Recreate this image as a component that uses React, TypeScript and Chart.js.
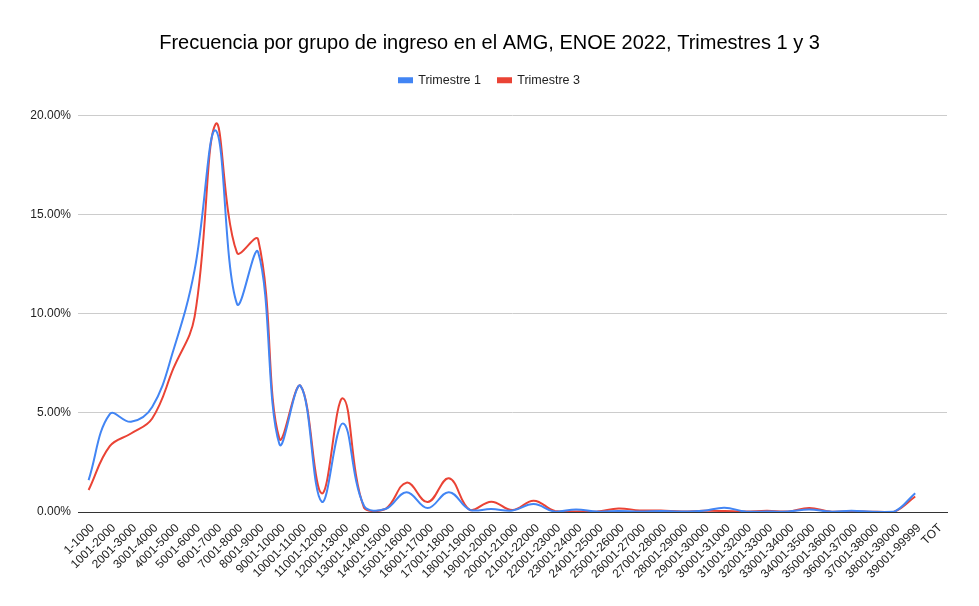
import React, { useEffect, useRef } from "react";
import { Chart, registerables } from "chart.js";

Chart.register(...registerables);

const categories: string[] = [
  "1-1000", "1001-2000", "2001-3000", "3001-4000", "4001-5000", "5001-6000",
  "6001-7000", "7001-8000", "8001-9000", "9001-10000", "10001-11000",
  "11001-12000", "12001-13000", "13001-14000", "14001-15000", "15001-16000",
  "16001-17000", "17001-18000", "18001-19000", "19001-20000", "20001-21000",
  "21001-22000", "22001-23000", "23001-24000", "24001-25000", "25001-26000",
  "26001-27000", "27001-28000", "28001-29000", "29001-30000", "30001-31000",
  "31001-32000", "32001-33000", "33001-34000", "34001-35000", "35001-36000",
  "36001-37000", "37001-38000", "38001-39000", "39001-99999", "TOT",
];

const trimestre1: (number | null)[] = [
  1.61, 4.94, 4.55, 5.3, 8.16, 12.2, 19.24, 10.5, 13.1, 3.43, 6.36, 0.52, 4.47,
  0.3, 0.15, 1.0, 0.2, 1.0, 0.1, 0.15, 0.07, 0.4, 0.02, 0.13, 0.02, 0.05, 0.02,
  0.05, 0.02, 0.06, 0.22, 0.02, 0.02, 0.03, 0.12, 0.02, 0.06, 0.01, 0.01, 0.95,
  null,
];

const trimestre3: (number | null)[] = [
  1.11, 3.32, 3.96, 4.72, 7.24, 9.84, 19.58, 13.08, 13.75, 3.71, 6.36, 0.94,
  5.73, 0.2, 0.15, 1.48, 0.5, 1.7, 0.1, 0.52, 0.1, 0.57, 0.05, 0.03, 0.02, 0.18,
  0.08, 0.07, 0.02, 0.06, 0.05, 0.02, 0.06, 0.03, 0.2, 0.02, 0.03, 0.01, 0.01,
  0.78, null,
];

const yTicks: number[] = [0, 5, 10, 15, 20];

const FONT = "'Liberation Sans', Arial, sans-serif";

const legendMargin = {
  id: "legendMargin",
  beforeInit(chart: any) {
    const legend = chart.legend;
    if (!legend) return;
    const orig = legend.fit;
    legend.fit = function fit() {
      orig.bind(legend)();
      this.height += 19;
    };
  },
};

export default function App() {
  const ref = useRef<HTMLCanvasElement | null>(null);

  useEffect(() => {
    if (!ref.current) return;
    const chart = new Chart(ref.current, {
      type: "line",
      data: {
        labels: categories,
        datasets: [
          {
            label: "Trimestre 1",
            data: trimestre1,
            borderColor: "#4285F4",
            backgroundColor: "#4285F4",
            borderWidth: 2,
            pointRadius: 0,
            tension: 0.4,
            fill: false,
          },
          {
            label: "Trimestre 3",
            data: trimestre3,
            borderColor: "#EA4335",
            backgroundColor: "#EA4335",
            borderWidth: 2,
            pointRadius: 0,
            tension: 0.4,
            fill: false,
          },
        ],
      },
      plugins: [legendMargin],
      options: {
        animation: false,
        responsive: true,
        maintainAspectRatio: false,
        layout: { padding: { left: 0, right: 0, top: 0, bottom: 0 } },
        plugins: {
          title: {
            display: true,
            text: "Frecuencia por grupo de ingreso en el AMG, ENOE 2022, Trimestres 1 y 3",
            color: "#000",
            font: { family: FONT, size: 20, weight: "normal" },
            padding: { top: 31, bottom: 2 },
          },
          legend: {
            display: true,
            position: "top",
            labels: {
              color: "#222",
              font: { family: FONT, size: 12.5 },
              boxWidth: 13,
              boxHeight: 4,
              padding: 17,
            },
          },
          tooltip: { enabled: false },
        },
        scales: {
          x: {
            offset: true,
            grid: { display: false, drawTicks: false },
            border: { display: true, color: "#333", width: 1 },
            ticks: {
              autoSkip: false,
              maxRotation: 45,
              minRotation: 45,
              color: "#222",
              font: { family: FONT, size: 12 },
              padding: 9,
              labelOffset: 4,
            },
            afterFit: (scale: any) => {
              scale.height = 94;
            },
          },
          y: {
            min: 0,
            max: 20,
            afterBuildTicks: (scale: any) => {
              scale.ticks = yTicks.map((v) => ({ value: v }));
            },
            grid: { color: "#cccccc", drawTicks: false },
            border: { display: false },
            ticks: {
              color: "#222",
              font: { family: FONT, size: 12 },
              padding: 7,
              callback: (v: any) => Number(v).toFixed(2) + "%",
            },
            afterFit: (scale: any) => {
              scale.width = 78;
            },
          },
          yRight: {
            position: "right",
            min: 0,
            max: 20,
            grid: { display: false, drawTicks: false },
            border: { display: false },
            ticks: { display: false },
            afterFit: (scale: any) => {
              scale.width = 32;
            },
          },
        },
      },
    });
    return () => chart.destroy();
  }, []);

  return (
    <div style={{ position: "absolute", left: 0, top: 0, width: 979, height: 606, background: "#fff" }}>
      <canvas ref={ref} />
    </div>
  );
}
